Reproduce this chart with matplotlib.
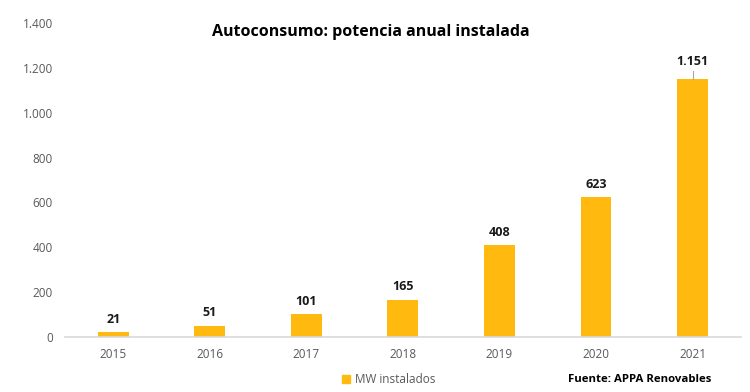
import matplotlib
matplotlib.use("Agg")
import matplotlib.pyplot as plt
from matplotlib.patches import Patch
from matplotlib.ticker import FuncFormatter

years = ["2015", "2016", "2017", "2018", "2019", "2020", "2021"]
mw = [21, 51, 101, 165, 408, 623, 1151]
series_name = "MW instalados"
title = "Autoconsumo: potencia anual instalada"
source = "Fuente: APPA Renovables"

plt.rcParams['font.family'] = ['Open Sans', 'DejaVu Sans']
bar_color = "#FFB90F"

def es_fmt(v):
    return f"{int(round(v)):,}".replace(",", ".")

fig = plt.figure(figsize=(7.5, 3.92), dpi=100)
ax = fig.add_axes([0.0867, 0.1403, 0.901, 0.801])
x = list(range(len(years)))
ax.bar(x, mw, width=0.32, color=bar_color, zorder=2)
ax.set_xlim(-0.5, len(years) - 0.5)
ax.set_ylim(0, 1400)
ax.set_yticks(range(0, 1401, 200))
ax.yaxis.set_major_formatter(FuncFormatter(lambda v, p: es_fmt(v)))
ax.set_xticks(x)
ax.set_xticklabels(years)
for s in ["top", "right", "left"]:
    ax.spines[s].set_visible(False)
ax.spines["bottom"].set_color("#D9D9D9")
ax.spines["bottom"].set_linewidth(1.2)
ax.tick_params(axis="both", length=0, labelsize=8.5, colors="#595959", pad=8)
ax.tick_params(axis="y", pad=8.6)

for xi, v in zip(x, mw):
    if v > 1000:
        ax.plot([xi, xi], [v, v + 35], color="#A6A6A6", lw=0.8, zorder=3)
        ax.text(xi, v + 50, es_fmt(v), ha="center", va="bottom", fontsize=9,
                fontweight="bold", color="#1a1a1a")
    else:
        ax.text(xi, v + 30, es_fmt(v), ha="center", va="bottom", fontsize=9,
                fontweight="bold", color="#1a1a1a")

fig.text(0.495, 0.918, title, ha="center", va="center", fontsize=11.5, fontweight="bold", color="#000000")

leg = fig.legend(handles=[Patch(color=bar_color, label=series_name)], loc="center",
                 bbox_to_anchor=(0.518, 0.031), frameon=False, fontsize=8.5,
                 handlelength=0.7, handleheight=0.7, handletextpad=0.4)
for t in leg.get_texts():
    t.set_color("#595959")
fig.text(0.853, 0.031, source, ha="center", va="center", fontsize=8.2, fontweight="bold", color="#000000")

fig.savefig("out.png", dpi=100)
